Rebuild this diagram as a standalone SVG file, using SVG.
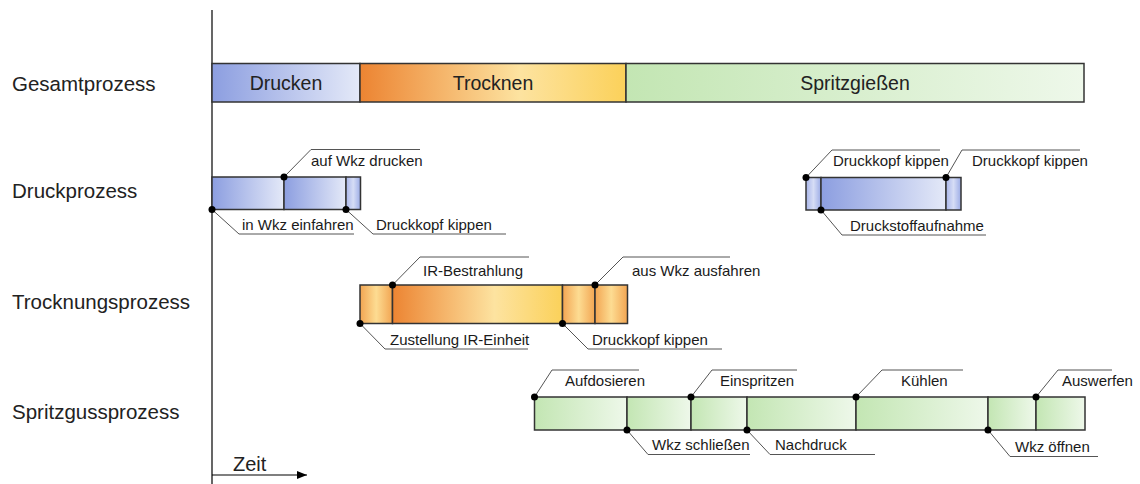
<svg xmlns="http://www.w3.org/2000/svg" width="1140" height="484" viewBox="0 0 1140 484">
<defs>
<linearGradient id="gBlue" x1="0" y1="0" x2="1" y2="0"><stop offset="0" stop-color="#8c9ee0"/><stop offset="1" stop-color="#e4e9f8"/></linearGradient>
<linearGradient id="gBlueS" x1="0" y1="0" x2="1" y2="0"><stop offset="0" stop-color="#a9b6ea"/><stop offset="0.5" stop-color="#d6ddf5"/><stop offset="1" stop-color="#9cace6"/></linearGradient>
<linearGradient id="gOrange" x1="0" y1="0" x2="1" y2="0"><stop offset="0" stop-color="#ec8432"/><stop offset="0.6" stop-color="#fde3a0"/><stop offset="1" stop-color="#fbd15a"/></linearGradient>
<linearGradient id="gOrangeS" x1="0" y1="0" x2="1" y2="0"><stop offset="0" stop-color="#f2a552"/><stop offset="0.5" stop-color="#fddc92"/><stop offset="1" stop-color="#f2a552"/></linearGradient>
<linearGradient id="gGreen" x1="0" y1="0" x2="1" y2="0"><stop offset="0" stop-color="#c3e6b3"/><stop offset="1" stop-color="#eef8ea"/></linearGradient>
<marker id="arr" viewBox="0 0 10 10" refX="10" refY="5" markerWidth="10" markerHeight="10" markerUnits="userSpaceOnUse" orient="auto"><path d="M0,1 L10,5 L0,9 Z" fill="#000"/></marker>
</defs>
<style>
.seg{stroke:#333;stroke-width:1.5}
.row{font-family:"Liberation Sans",Arial,sans-serif;font-size:20.5px;fill:#222}
.bar{font-family:"Liberation Sans",Arial,sans-serif;font-size:19.5px;fill:#222;text-anchor:middle}
.lbl{font-family:"Liberation Sans",Arial,sans-serif;font-size:15px;fill:#1a1a1a}
.ld{fill:none;stroke:#555;stroke-width:1}
.dot{fill:#000}
.ax{stroke:#000;stroke-width:1.2;fill:none}
</style>
<rect width="1140" height="484" fill="#fff"/>

<g id="axes">
<line class="ax" x1="212" y1="10" x2="212" y2="484"/>
<line class="ax" x1="212" y1="475" x2="307" y2="475" marker-end="url(#arr)"/>
<text class="row" x="233" y="471" style="font-size:20px">Zeit</text>
</g>

<g id="row-labels">
<text class="row" x="12" y="91">Gesamtprozess</text>
<text class="row" x="12" y="198">Druckprozess</text>
<text class="row" x="12" y="309">Trocknungsprozess</text>
<text class="row" x="12" y="419">Spritzgussprozess</text>
</g>

<g id="gesamt">
<rect class="seg" x="212" y="63.5" width="148" height="38.5" fill="url(#gBlue)"/>
<rect class="seg" x="360" y="63.5" width="266" height="38.5" fill="url(#gOrange)"/>
<rect class="seg" x="626" y="63.5" width="458" height="38.5" fill="url(#gGreen)"/>
<text class="bar" x="286" y="90">Drucken</text>
<text class="bar" x="493" y="90">Trocknen</text>
<text class="bar" x="855" y="90">Spritzgießen</text>
</g>

<g id="druckprozess">
<rect class="seg" x="212" y="177" width="72" height="32.5" fill="url(#gBlue)"/>
<rect class="seg" x="284" y="177" width="62" height="32.5" fill="url(#gBlue)"/>
<rect class="seg" x="346" y="177" width="14.5" height="32.5" fill="url(#gBlueS)"/>
<rect class="seg" x="806" y="177.5" width="15" height="32.5" fill="url(#gBlueS)"/>
<rect class="seg" x="821" y="177.5" width="125" height="32.5" fill="url(#gBlue)"/>
<rect class="seg" x="946" y="177.5" width="15" height="32.5" fill="url(#gBlueS)"/>
</g>

<g id="trocknungsprozess">
<rect class="seg" x="360" y="285" width="32.5" height="38.5" fill="url(#gOrangeS)"/>
<rect class="seg" x="392.5" y="285" width="170" height="38.5" fill="url(#gOrange)"/>
<rect class="seg" x="562.5" y="285" width="32.5" height="38.5" fill="url(#gOrangeS)"/>
<rect class="seg" x="595" y="285" width="32.5" height="38.5" fill="url(#gOrangeS)"/>
</g>

<g id="spritzgussprozess">
<rect class="seg" x="534.5" y="397" width="92.5" height="33" fill="url(#gGreen)"/>
<rect class="seg" x="627" y="397" width="64" height="33" fill="url(#gGreen)"/>
<rect class="seg" x="691" y="397" width="56" height="33" fill="url(#gGreen)"/>
<rect class="seg" x="747" y="397" width="109" height="33" fill="url(#gGreen)"/>
<rect class="seg" x="856" y="397" width="132" height="33" fill="url(#gGreen)"/>
<rect class="seg" x="988" y="397" width="48" height="33" fill="url(#gGreen)"/>
<rect class="seg" x="1036" y="397" width="49" height="33" fill="url(#gGreen)"/>
</g>

<g id="connectors">
<polyline class="ld" points="284,177 311,149.5 420,149.5"/>
<polyline class="ld" points="212,209.5 239,234 354,234"/>
<polyline class="ld" points="346,209.5 373,234 506,234"/>
<polyline class="ld" points="806,177.5 832,150 940,150"/>
<polyline class="ld" points="946,177.5 962,150 1080,150"/>
<polyline class="ld" points="821,210 842,235 986,235"/>
<polyline class="ld" points="392.5,285 420,257 529,257"/>
<polyline class="ld" points="595,285 623,257 730,257"/>
<polyline class="ld" points="360,323.5 385,349 528,349"/>
<polyline class="ld" points="562.5,323.5 588,349 722,349"/>
<polyline class="ld" points="534.5,397 552,370 639,370"/>
<polyline class="ld" points="691,397 712,370 797,370"/>
<polyline class="ld" points="856,397 882,370 963,370"/>
<polyline class="ld" points="1036,397 1058,370 1112,370"/>
<polyline class="ld" points="627,430 648,454.5 750,454.5"/>
<polyline class="ld" points="747,430 770,454.5 875,454.5"/>
<polyline class="ld" points="988,430 1010,456.5 1098,456.5"/>
<g class="dot">
<circle cx="284" cy="177" r="3.5"/><circle cx="212" cy="209.5" r="3.5"/><circle cx="346" cy="209.5" r="3.5"/>
<circle cx="806" cy="177.5" r="3.5"/><circle cx="946" cy="177.5" r="3.5"/><circle cx="821" cy="210" r="3.5"/>
<circle cx="392.5" cy="285" r="3.5"/><circle cx="595" cy="285" r="3.5"/><circle cx="360" cy="323.5" r="3.5"/><circle cx="562.5" cy="323.5" r="3.5"/>
<circle cx="534.5" cy="397" r="3.5"/><circle cx="691" cy="397" r="3.5"/><circle cx="856" cy="397" r="3.5"/><circle cx="1036" cy="397" r="3.5"/>
<circle cx="627" cy="430" r="3.5"/><circle cx="747" cy="430" r="3.5"/><circle cx="988" cy="430" r="3.5"/>
</g>
</g>

<g id="labels">
<text class="lbl" x="311" y="166">auf Wkz drucken</text>
<text class="lbl" x="242" y="230">in Wkz einfahren</text>
<text class="lbl" x="376" y="230">Druckkopf kippen</text>
<text class="lbl" x="833" y="166">Druckkopf kippen</text>
<text class="lbl" x="972" y="166">Druckkopf kippen</text>
<text class="lbl" x="850" y="231">Druckstoffaufnahme</text>
<text class="lbl" x="423" y="276">IR-Bestrahlung</text>
<text class="lbl" x="632" y="276">aus Wkz ausfahren</text>
<text class="lbl" x="390" y="345">Zustellung IR-Einheit</text>
<text class="lbl" x="592" y="345">Druckkopf kippen</text>
<text class="lbl" x="565" y="386">Aufdosieren</text>
<text class="lbl" x="720" y="386">Einspritzen</text>
<text class="lbl" x="901" y="386">Kühlen</text>
<text class="lbl" x="1062" y="386">Auswerfen</text>
<text class="lbl" x="652" y="450">Wkz schließen</text>
<text class="lbl" x="775" y="450">Nachdruck</text>
<text class="lbl" x="1015" y="452">Wkz öffnen</text>
</g>
</svg>
